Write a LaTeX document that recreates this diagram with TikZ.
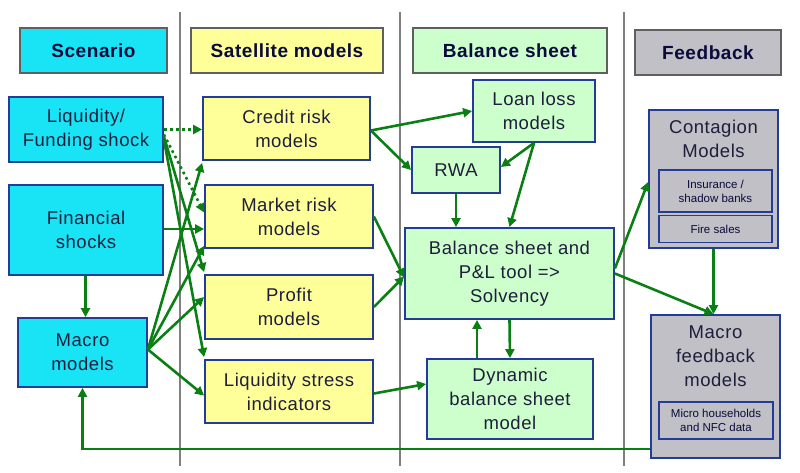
\documentclass[tikz,border=0pt]{standalone}
\usepackage{fontspec}
\setmainfont{Liberation Sans}
\usetikzlibrary{arrows.meta,calc}
\definecolor{cyanbox}{RGB}{25,228,245}
\definecolor{yelbox}{RGB}{255,255,153}
\definecolor{grnbox}{RGB}{204,255,204}
\definecolor{graybox}{RGB}{192,192,198}
\definecolor{boxedge}{RGB}{35,60,150}
\definecolor{hdredge}{RGB}{95,95,95}
\definecolor{arrgreen}{RGB}{10,128,20}
\definecolor{txt}{RGB}{30,30,60}
\definecolor{hdrtxt}{RGB}{10,10,60}
\definecolor{sepline}{RGB}{128,128,128}
\newcommand{\bodyfont}{\fontsize{18.5}{24}\selectfont\addfontfeatures{LetterSpace=3}}
\newcommand{\hdrfont}{\fontsize{19}{22}\selectfont\bfseries\addfontfeatures{LetterSpace=3}}
\newcommand{\subfont}{\fontsize{11.5}{14}\selectfont}
\begin{document}
\begin{tikzpicture}[x=1pt,y=-1pt,
 hdr/.style={draw=hdredge,line width=2pt,inner sep=0pt,font=\hdrfont,text=hdrtxt},
 box/.style={draw=boxedge,line width=1.8pt,inner sep=0pt,align=center,font=\bodyfont,text=txt},
 sub/.style={draw=boxedge,line width=1.2pt,inner sep=0pt,align=center,font=\subfont,text=hdrtxt,fill=graybox},
 lbl/.style={inner sep=0pt,align=center,font=\bodyfont,text=txt},
 arr/.style={draw=arrgreen,line width=2.6pt,-{Triangle[length=9pt,width=9pt]}},
 dotarr/.style={arr,dash pattern=on 2.6pt off 3.4pt},
 sep/.style={draw=sepline,line width=2pt}]
\useasboundingbox (0,0) rectangle (800,472);
\fill[white] (0,0) rectangle (800,472);
% separators
\coordinate (s1t) at (180,12); \coordinate (s1b) at (180,466);
\coordinate (s2t) at (400,12); \coordinate (s2b) at (400,466);
\coordinate (s3t) at (624,12); \coordinate (s3b) at (624,466);
\draw[sep] (s1t) -- (s1b);
\draw[sep] (s2t) -- (s2b);
\draw[sep] (s3t) -- (s3b);
% headers
\node[hdr,fill=cyanbox,minimum width=147pt,minimum height=45pt] (hScen) at (93.5,50.5) {Scenario};
\node[hdr,fill=yelbox,minimum width=192pt,minimum height=45pt] (hSat) at (287,50.5) {Satellite models};
\node[hdr,fill=grnbox,minimum width=194pt,minimum height=45pt] (hBal) at (510,50.5) {Balance sheet};
\node[hdr,fill=graybox,minimum width=146pt,minimum height=45pt] (hFb) at (708,52.5) {Feedback};
% scenario
\node[box,fill=cyanbox,minimum width=154pt,minimum height=65pt] (liq) at (86,129.5) {Liquidity/\\Funding shock};
\node[box,fill=cyanbox,minimum width=154pt,minimum height=90pt] (fin) at (86,230) {Financial\\shocks};
\node[box,fill=cyanbox,minimum width=129pt,minimum height=69pt] (mac) at (82.5,352.5) {Macro\\models};
% satellite
\node[box,fill=yelbox,minimum width=167pt,minimum height=63pt] (cred) at (286.5,128.5) {Credit risk\\models};
\node[box,fill=yelbox,minimum width=168pt,minimum height=63pt] (mkt) at (289,216.5) {Market risk\\models};
\node[box,fill=yelbox,minimum width=168pt,minimum height=64pt] (prof) at (289,307) {Profit\\models};
\node[box,fill=yelbox,minimum width=168pt,minimum height=63pt] (lsi) at (289,391.5) {Liquidity stress\\indicators};
% balance sheet
\node[box,fill=grnbox,minimum width=122pt,minimum height=62pt] (loan) at (534,111) {Loan loss\\models};
\node[box,fill=grnbox,minimum width=88pt,minimum height=46pt] (rwa) at (456,170) {RWA};
\node[box,fill=grnbox,minimum width=209pt,minimum height=91pt] (bst) at (509.5,273.5) {Balance sheet and\\P\&L tool =>\\Solvency};
\node[box,fill=grnbox,minimum width=166pt,minimum height=80pt] (dyn) at (510,399) {Dynamic\\balance sheet\\model};
% feedback
\node[box,fill=graybox,minimum width=129pt,minimum height=138pt] (cont) at (713.5,179) {};
\node[lbl,anchor=north] (contT) at (713.5,120) {Contagion\\Models};
\node[sub,minimum width=113pt,minimum height=42pt] (ins) at (715.5,191) {Insurance /\\shadow banks};
\node[sub,minimum width=113pt,minimum height=27pt] (fire) at (715.5,229) {Fire sales};
\node[box,fill=graybox,minimum width=129pt,minimum height=143pt] (mfb) at (715.5,386.5) {};
\node[lbl,anchor=north] (mfbT) at (715.5,326) {Macro\\feedback\\models};
\node[sub,minimum width=114pt,minimum height=37pt] (micro) at (716,420.5) {Micro households\\and NFC data};
% arrows scenario -> satellite
\draw[dotarr] (liq.east) -- (liq.east -| cred.west);
\draw[dotarr] ([yshift=-5pt]liq.east) -- ([yshift=4pt]mkt.west);
\draw[arr] ([yshift=-7pt]liq.east) -- ([yshift=2pt]prof.north west);
\draw[arr] ([yshift=-10pt]liq.east) -- ([yshift=2pt]lsi.north west);
\draw[arr] ([yshift=1pt]fin.east) -- ([yshift=1pt]fin.east -| mkt.west);
\draw[arr] ([yshift=3pt]mac.east) -- ([yshift=-2pt]cred.south west);
\draw[arr] ([yshift=3pt]mac.east) -- ([yshift=3pt]mkt.south west);
\draw[arr] ([yshift=3pt]mac.east) -- ([yshift=10pt]prof.west);
\draw[arr] ([yshift=3pt]mac.east) -- ([yshift=-4pt]lsi.west);
\draw[arr] ([xshift=3pt]mac.north |- fin.south) -- ([xshift=3pt]mac.north);
% satellite -> balance sheet
\draw[arr] ([yshift=-2pt]cred.east) -- (loan.west);
\draw[arr] ([yshift=-2pt]cred.east) -- (rwa.west);
\draw[arr] (mkt.east) -- ([yshift=-4pt]bst.west);
\draw[arr] (prof.east) -- ([yshift=-3pt]bst.west);
\draw[arr] ([yshift=-2pt]lsi.east) -- ([yshift=15pt]dyn.west);
\draw[arr] (loan.south) -- ([yshift=3pt]rwa.east);
\draw[arr] (loan.south) -- (bst.north);
\draw[arr] (rwa.south) -- (rwa.south |- bst.north);
\draw[arr] (bst.south) -- (dyn.north);
\draw[arr] ([xshift=-33pt]dyn.north) -- ([xshift=-33pt]dyn.north |- bst.south);
% balance sheet -> feedback
\draw[arr] ([yshift=5pt]bst.east) -- ([yshift=-3pt]cont.west);
\draw[arr] (bst.east) -- ([xshift=-2pt]mfb.north);
\draw[arr] (cont.south) -- (cont.south |- mfb.north);
\draw[arr] ([yshift=-62.5pt]mfb.west) -| (mac.south);
\end{tikzpicture}
\end{document}
